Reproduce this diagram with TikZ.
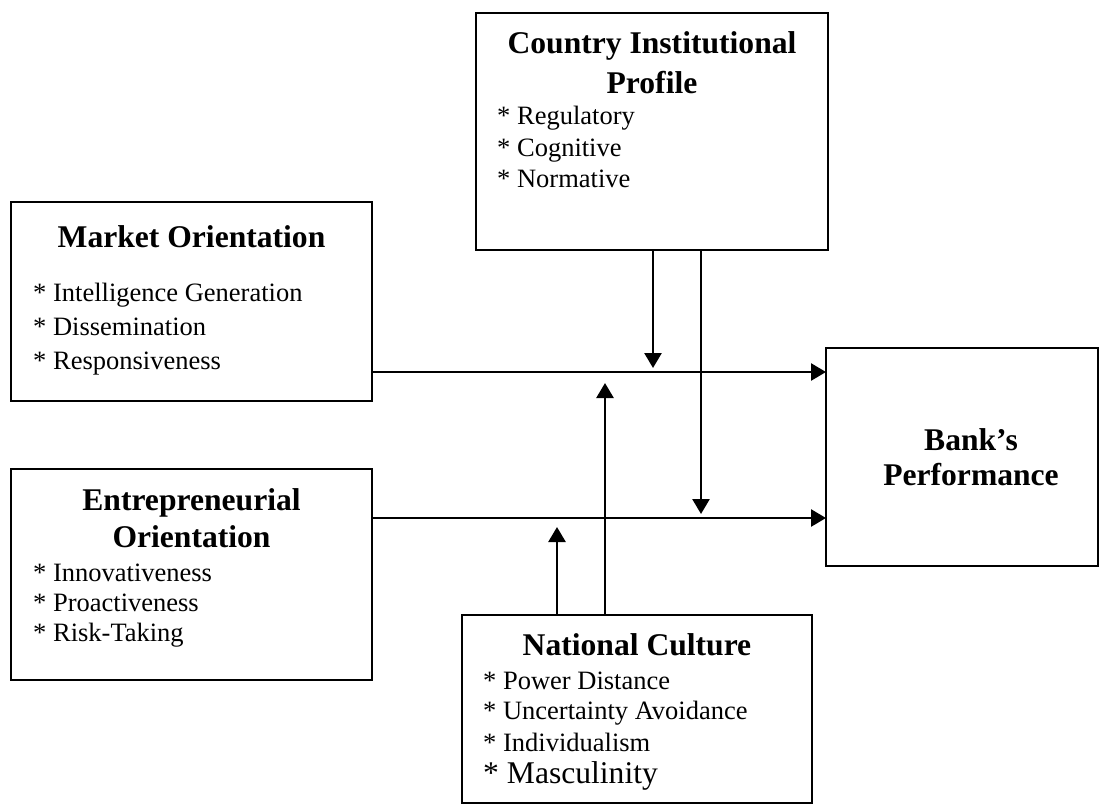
\documentclass[tikz,border=0pt]{standalone}
\usepackage{fontspec}
\setmainfont{Liberation Serif}
\usetikzlibrary{arrows.meta}
\begin{document}
\begin{tikzpicture}[x=1pt,y=-1pt,
  box/.style={draw,line width=2.8pt,rectangle,inner sep=0pt,outer sep=0pt},
  ttl/.style={inner sep=0pt,anchor=base,font=\fontsize{31.6}{38}\selectfont\bfseries},
  itm/.style={inner sep=0pt,anchor=base west,font=\fontsize{26.5}{32}\selectfont},
  link/.style={line width=2.6pt,-{Triangle[length=15pt,width=17pt]}}]
\useasboundingbox (0,0) rectangle (1102,807);

% boxes
\node[box,minimum width=352pt,minimum height=237pt] (cip) at (652,131.5) {};
\node[box,minimum width=361pt,minimum height=199pt] (mo) at (191.5,301.5) {};
\node[box,minimum width=361pt,minimum height=211pt] (eo) at (191.5,574.5) {};
\node[box,minimum width=272pt,minimum height=218pt] (bank) at (962,457) {};
\node[box,minimum width=350pt,minimum height=188pt] (nc) at (637,709) {};

% Country Institutional Profile
\node[ttl] (cipT1) at (652,53.5) {Country Institutional};
\node[ttl] (cipT2) at (652,93.5) {Profile};
\node[itm] (cipA) at (497,124) {* Regulatory};
\node[itm] (cipB) at (497,156) {* Cognitive};
\node[itm] (cipC) at (497,187) {* Normative};

% Market Orientation
\node[ttl] (moT) at (191.5,247.5) {Market Orientation};
\node[itm] (moA) at (33,301) {* Intelligence Generation};
\node[itm] (moB) at (33,335) {* Dissemination};
\node[itm] (moC) at (33,369) {* Responsiveness};

% Entrepreneurial Orientation
\node[ttl] (eoT1) at (191.5,510.5) {Entrepreneurial};
\node[ttl] (eoT2) at (191.5,547.5) {Orientation};
\node[itm] (eoA) at (33,581) {* Innovativeness};
\node[itm] (eoB) at (33,611) {* Proactiveness};
\node[itm] (eoC) at (33,641) {* Risk-Taking};

% Bank's Performance
\node[ttl] (bankT1) at (971,450.5) {Bank’s};
\node[ttl] (bankT2) at (971,485.5) {Performance};

% National Culture
\node[ttl] (ncT) at (637,655.5) {National Culture};
\node[itm] (ncA) at (483,689) {* Power Distance};
\node[itm] (ncB) at (483,719) {* Uncertainty Avoidance};
\node[itm] (ncC) at (483,751) {* Individualism};
\node[itm,font=\fontsize{31.6}{38}\selectfont] (ncD) at (483,783) {* Masculinity};

% levels of the two main paths and the moderator columns
\coordinate (moLine) at (0,372);
\coordinate (eoLine) at (0,518);
\coordinate (colA) at (557,0);
\coordinate (colB) at (605,0);
\coordinate (colC) at (653,0);
\coordinate (colD) at (701,0);

% main paths
\draw[link] (mo.east |- moLine) -- (bank.west |- moLine);
\draw[link] (eo.east |- eoLine) -- (bank.west |- eoLine);

% institutional profile moderating both paths
\draw[link] (cip.south -| colC) -- ([yshift=4pt]colC |- moLine);
\draw[link] (cip.south -| colD) -- ([yshift=4pt]colD |- eoLine);

% national culture moderating both paths
\draw[link] (nc.north -| colA) -- ([yshift=-9pt]colA |- eoLine);
\draw[link] (nc.north -| colB) -- ([yshift=-11pt]colB |- moLine);
\end{tikzpicture}
\end{document}
